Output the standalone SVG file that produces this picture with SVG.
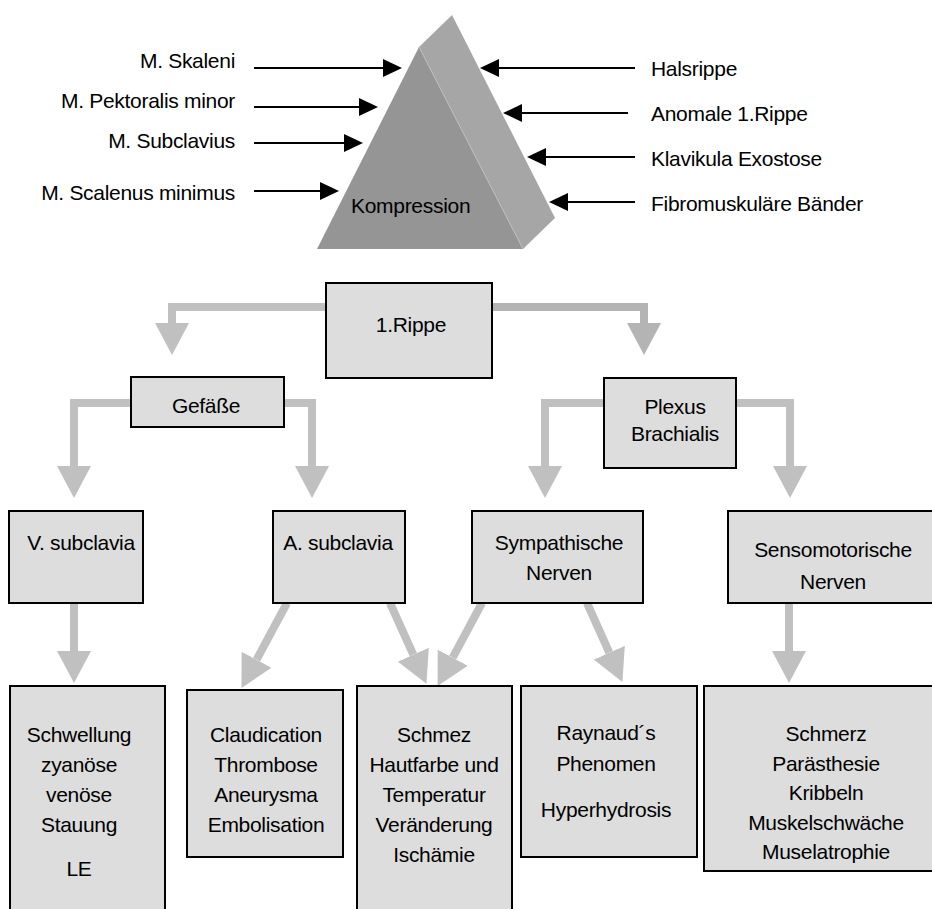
<svg xmlns="http://www.w3.org/2000/svg" width="932" height="909" viewBox="0 0 932 909">
<style>
text{font-family:"Liberation Sans",Arial,sans-serif;font-size:21px;letter-spacing:-0.3px;fill:#000}
.c{text-anchor:middle}
.e{text-anchor:end}
.box{fill:#dddddd;stroke:#000;stroke-width:2}
.g{fill:none;stroke:#c0c0c0;stroke-width:8}
.g2{fill:none;stroke:#b4b4b4;stroke-width:8}
.k{fill:none;stroke:#000;stroke-width:2}
</style>
<defs>
<marker id="ga" markerUnits="userSpaceOnUse" markerWidth="32" markerHeight="34" viewBox="0 0 32 34" refX="0" refY="17" orient="auto"><path d="M0,0 L32,17 L0,34 z" fill="#c0c0c0"/></marker>
<marker id="ga2" markerUnits="userSpaceOnUse" markerWidth="32" markerHeight="34" viewBox="0 0 32 34" refX="0" refY="17" orient="auto"><path d="M0,0 L32,17 L0,34 z" fill="#b4b4b4"/></marker>
<marker id="ka" markerUnits="userSpaceOnUse" markerWidth="19" markerHeight="18" viewBox="0 0 19 18" refX="0" refY="9" orient="auto"><path d="M0,0 L19,9 L0,18 z" fill="#000"/></marker>
</defs>
<g id="kompression">
<polygon points="419,47 452,15 555,218 523,249" fill="#a6a6a6"/>
<polygon points="419,47 317,249 523,249" fill="#959595"/>
<line x1="419" y1="47" x2="523" y2="249" stroke="#bdbdbd" stroke-width="1"/>
<text x="351" y="213">Kompression</text>
</g>
<g id="ursachen">
<text class="e" x="235" y="68">M. Skaleni</text>
<text class="e" x="235" y="108">M. Pektoralis minor</text>
<text class="e" x="235" y="148">M. Subclavius</text>
<text class="e" x="235" y="200">M. Scalenus minimus</text>
<text x="651" y="76">Halsrippe</text>
<text x="651" y="121">Anomale 1.Rippe</text>
<text x="651" y="166">Klavikula Exostose</text>
<text x="651" y="211">Fibromuskuläre Bänder</text>
</g>
<g id="connectors">
<path class="k" d="M254,68 H383" marker-end="url(#ka)"/>
<path class="k" d="M254,107 H359" marker-end="url(#ka)"/>
<path class="k" d="M254,143 H344" marker-end="url(#ka)"/>
<path class="k" d="M254,191 H320" marker-end="url(#ka)"/>
<path class="k" d="M635,68 H499" marker-end="url(#ka)"/>
<path class="k" d="M628,113 H522" marker-end="url(#ka)"/>
<path class="k" d="M635,157 H546" marker-end="url(#ka)"/>
<path class="k" d="M635,202 H568" marker-end="url(#ka)"/>
<path class="g" d="M326,307 H172 V323" marker-end="url(#ga)"/>
<path class="g2" d="M492,307 H644 V323" marker-end="url(#ga2)"/>
<path class="g" d="M131,403 H74 V466" marker-end="url(#ga)"/>
<path class="g" d="M284,403 H312 V466" marker-end="url(#ga)"/>
<path class="g" d="M604,403 H545 V466" marker-end="url(#ga)"/>
<path class="g" d="M736,403 H790 V466" marker-end="url(#ga)"/>
<path class="g" d="M74,603 V651" marker-end="url(#ga)"/>
<path class="g" d="M789,603 V651" marker-end="url(#ga)"/>
<path class="g" d="M287,603 L256.6,659.7" marker-end="url(#ga)"/>
<path class="g" d="M390,603 L413.3,654.7" marker-end="url(#ga)"/>
<path class="g" d="M482,603 L452.7,657.7" marker-end="url(#ga)"/>
<path class="g" d="M587,603 L609.3,652.7" marker-end="url(#ga)"/>
</g>
<g id="rippe"><rect class="box" x="326" y="283" width="166" height="95"/><text class="c" x="411" y="332">1.Rippe</text></g>
<g id="gefaesse"><rect class="box" x="131" y="377" width="153" height="50"/><text class="c" x="206" y="413">Gefäße</text></g>
<g id="plexus"><rect class="box" x="604" y="378" width="132" height="90"/><text class="c" x="675" y="414">Plexus</text><text class="c" x="675" y="441">Brachialis</text></g>
<g id="vsub"><rect class="box" x="9" y="511" width="134" height="92"/><text class="c" x="81" y="550">V. subclavia</text></g>
<g id="asub"><rect class="box" x="273" y="511" width="132" height="92"/><text class="c" x="338" y="550">A. subclavia</text></g>
<g id="symp"><rect class="box" x="472" y="511" width="171" height="92"/><text class="c" x="559" y="550">Sympathische</text><text class="c" x="559" y="580">Nerven</text></g>
<g id="senso"><rect class="box" x="728" y="511" width="220" height="92"/><text class="c" x="833" y="557">Sensomotorische</text><text class="c" x="833" y="589">Nerven</text></g>
<g id="venoes"><rect class="box" x="10" y="686" width="155" height="240"/>
<text class="c" x="79" y="742">Schwellung</text><text class="c" x="79" y="772">zyanöse</text><text class="c" x="79" y="802">venöse</text><text class="c" x="79" y="832">Stauung</text><text class="c" x="79" y="876">LE</text></g>
<g id="arteriell"><rect class="box" x="187" y="690" width="156" height="167"/>
<text class="c" x="266" y="742">Claudication</text><text class="c" x="266" y="772">Thrombose</text><text class="c" x="266" y="802">Aneurysma</text><text class="c" x="266" y="832">Embolisation</text></g>
<g id="schmez"><rect class="box" x="357" y="686" width="155" height="240"/>
<text class="c" x="434" y="742">Schmez</text><text class="c" x="434" y="772">Hautfarbe und</text><text class="c" x="434" y="802">Temperatur</text><text class="c" x="434" y="832">Veränderung</text><text class="c" x="434" y="862">Ischämie</text></g>
<g id="raynaud"><rect class="box" x="521" y="686" width="176" height="171"/>
<text class="c" x="606" y="740">Raynaud´s</text><text class="c" x="606" y="771">Phenomen</text><text class="c" x="606" y="817">Hyperhydrosis</text></g>
<g id="schmerz"><rect class="box" x="704" y="686" width="244" height="185"/>
<text class="c" x="826" y="741">Schmerz</text><text class="c" x="826" y="771">Parästhesie</text><text class="c" x="826" y="800">Kribbeln</text><text class="c" x="826" y="830">Muskelschwäche</text><text class="c" x="826" y="859">Muselatrophie</text></g>
</svg>
